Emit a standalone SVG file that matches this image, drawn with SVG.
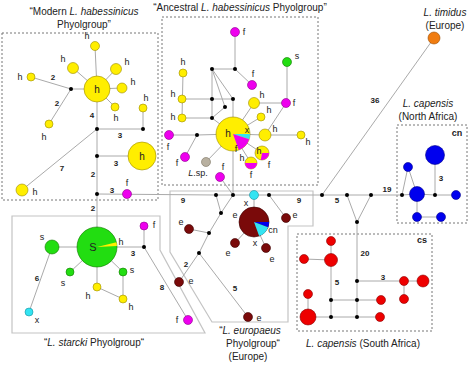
<svg xmlns="http://www.w3.org/2000/svg" width="474" height="370" viewBox="0 0 474 370">
<style>
.ln{stroke:#aaa;stroke-width:1;fill:none}
.bxd{fill:none;stroke:#777;stroke-width:1;stroke-dasharray:2,2}
.bxs{fill:none;stroke:#c4c4c4;stroke-width:1.2}
.d{fill:#000}
.y{fill:#ffee00;stroke:#9a8a00;stroke-width:.6}
.m{fill:#ee00ee;stroke:#8a008a;stroke-width:.6}
.g{fill:#22dd11;stroke:#117700;stroke-width:.6}
.c{fill:#33e4f2;stroke:#1890a0;stroke-width:.6}
.b{fill:#0000ee;stroke:#00008a;stroke-width:.6}
.r{fill:#ee0000;stroke:#8a0000;stroke-width:.6}
.e{fill:#7a0a0a;stroke:#3a0000;stroke-width:.6}
.o{fill:#f07c10;stroke:#9a4c00;stroke-width:.6}
.sp{fill:#b8b0a0;stroke:#7a7262;stroke-width:.6}
text{font-family:"Liberation Sans",Arial,sans-serif;font-size:9px;fill:#222;text-anchor:middle}
.n{font-weight:bold;font-size:8px}
.ti{font-size:10px}
.bg{font-size:10px}
</style>

<!-- boxes -->
<g id="boxes">
<rect class="bxd" x="2" y="33" width="156" height="167"/>
<rect class="bxd" x="162" y="17" width="156" height="168"/>
<rect class="bxd" x="397" y="125" width="70" height="98"/>
<rect class="bxd" x="297" y="234" width="135" height="97"/>
<polygon class="bxs" points="12,216 160,216 160,250 205,333 12,333"/>
<polygon class="bxs" points="170,191 313,191 313,226 288,226 288,322 212,322 170,252"/>
</g>

<g id="connectors">
<path class="ln" d="M97,89L95,46M97,89L73,68M97,89L116,69M97,89L122,88M97,89L115,107M97,89L71,89L31,77M71,89L49,124M97,89V247M97,129H143V108M97,129L22,190M97,156H142M97,194L216,195"/>
<path class="ln" d="M97,247H144V226M144,247L188,320M97,247H52L29,312M97,247L70,272M97,247L123,272V299M97,247V287L123,299"/>
<path class="ln" d="M235,32V69H212M235,69L252,85M287,62V103M183,73L182,118M182,99H233M182,118H212M212,69V118M212,69L233,99M212,69L225,107L212,118M233,99V134M212,118L233,134M254,103H286M233,134L254,103M233,134L261,117M233,134L265,135H301M286,103L265,135M233,134L262,153M233,134L251,163M169,135H197L233,134M197,135L185,157M233,134L206,162M233,134V195M220,177L233,195"/>
<path class="ln" d="M216,195H322M216,195L221,213L233,195M221,213L209,233L199,253L179,282M209,233L189,229M199,253L248,317M254,195V222M269,195L286,218M254,222L235,243M254,222L266,248"/>
<path class="ln" d="M322,195L434,38M322,195H402M347,195L357,222L371,195M357,222V317"/>
<path class="ln" d="M402,195L417,194L435,195H456M435,195V155M402,195L408,167L417,194M417,194V217H441"/>
<path class="ln" d="M357,281H423M404,281V299M331,300H381M308,317H380M331,241V317M304,259L331,260M308,294V317"/>
</g>

<g id="dots">
<circle class="d" cx="71" cy="89" r="2"/><circle class="d" cx="97" cy="129" r="2"/><circle class="d" cx="143" cy="129" r="2"/><circle class="d" cx="97" cy="156" r="2"/><circle class="d" cx="97" cy="194" r="2"/><circle class="d" cx="144" cy="247" r="2"/>
<circle class="d" cx="212" cy="69" r="2"/><circle class="d" cx="235" cy="69" r="2"/><circle class="d" cx="212" cy="99" r="2"/><circle class="d" cx="233" cy="99" r="2"/><circle class="d" cx="225" cy="107" r="2"/><circle class="d" cx="212" cy="118" r="2"/><circle class="d" cx="197" cy="135" r="2"/>
<circle class="d" cx="216" cy="195" r="2"/><circle class="d" cx="233" cy="195" r="2"/><circle class="d" cx="269" cy="195" r="2"/><circle class="d" cx="221" cy="213" r="2"/><circle class="d" cx="209" cy="233" r="2"/><circle class="d" cx="199" cy="253" r="2"/>
<circle class="d" cx="322" cy="195" r="2"/><circle class="d" cx="347" cy="195" r="2"/><circle class="d" cx="371" cy="195" r="2"/><circle class="d" cx="357" cy="222" r="2"/><circle class="d" cx="402" cy="195" r="2"/><circle class="d" cx="435" cy="195" r="2"/>
<circle class="d" cx="357" cy="281" r="2"/><circle class="d" cx="357" cy="300" r="2"/><circle class="d" cx="357" cy="317" r="2"/><circle class="d" cx="331" cy="300" r="2"/><circle class="d" cx="331" cy="317" r="2"/>
</g>

<!-- Modern group -->
<g id="mh-big"><circle class="y" cx="97" cy="89" r="13"/><text class="bg" x="97" y="93">h</text></g>
<g id="mh1"><circle class="y" cx="95" cy="46" r="4.5"/><text x="87" y="39">h</text></g>
<g id="mh2"><circle class="y" cx="73" cy="68" r="5.5"/><text x="63" y="62">h</text></g>
<g id="mh3"><circle class="y" cx="116" cy="69" r="5.5"/><text x="127" y="65">h</text></g>
<g id="mh4"><circle class="y" cx="122" cy="88" r="5"/><text x="133" y="85">h</text></g>
<g id="mh5"><circle class="y" cx="115" cy="107" r="4"/><text x="116" y="121">h</text></g>
<g id="mh6"><circle class="y" cx="143" cy="108" r="4"/><text x="146" y="101">h</text></g>
<g id="mh7"><circle class="y" cx="31" cy="77" r="4"/><text x="20" y="80">h</text></g>
<g id="mh8"><circle class="y" cx="49" cy="124" r="4"/><text x="44" y="140">h</text></g>
<g id="mh9"><circle class="y" cx="142" cy="156" r="14"/><text class="bg" x="142" y="160">h</text></g>
<g id="mh10"><circle class="y" cx="22" cy="190" r="6"/><text x="35" y="195">h</text></g>
<g id="mf1"><circle class="m" cx="127" cy="194" r="4.5"/><text x="127" y="186">f</text></g>

<!-- Starcki group -->
<g id="s-big"><circle class="g" cx="97" cy="247" r="20"/><path d="M97,247L116.41,242.16A20,20 0 0 1 116.97,245.95Z" fill="#ffee00"/><text x="93" y="251" style="font-size:11px">S</text><text x="121" y="245">h</text></g>
<g id="s1"><circle class="g" cx="52" cy="247" r="7"/><text x="42" y="240">s</text></g>
<g id="s2"><circle class="g" cx="70" cy="272" r="4"/><text x="63" y="286">s</text></g>
<g id="s3"><circle class="g" cx="123" cy="272" r="4"/><text x="132" y="273">s</text></g>
<g id="sh1"><circle class="y" cx="97" cy="287" r="4"/><text x="88" y="299">h</text></g>
<g id="sh2"><circle class="y" cx="123" cy="299" r="4"/><text x="131" y="310">h</text></g>
<g id="sx"><circle class="c" cx="29" cy="312" r="4"/><text x="37" y="323">x</text></g>
<g id="sf1"><circle class="m" cx="144" cy="226" r="4"/><text x="154" y="228">f</text></g>
<g id="sf2"><circle class="m" cx="188" cy="320" r="4.5"/><text x="177" y="323">f</text></g>

<!-- Ancestral group -->
<g id="a-big"><circle class="y" cx="233" cy="134" r="17"/><path d="M233,134L250,134A17,17 0 0 1 249.17,139.25Z" fill="#33e4f2"/><path d="M233,134L249.17,139.25A17,17 0 0 1 238.81,149.97Z" fill="#ee00ee"/><text class="bg" x="228" y="137">h</text><text x="247" y="133">x</text><text x="236" y="152">f</text></g>
<g id="af1"><circle class="m" cx="235" cy="32" r="4.5"/><text x="244" y="35">f</text></g>
<g id="af2"><circle class="m" cx="252" cy="85" r="4.5"/><text x="253" y="77">f</text></g>
<g id="as1"><circle class="g" cx="287" cy="62" r="4.5"/><text x="297" y="59">s</text></g>
<g id="af3"><circle class="m" cx="286" cy="103" r="4.5"/><text x="294" y="106">f</text></g>
<g id="ah1"><circle class="y" cx="183" cy="73" r="4"/><text x="183" y="65">h</text></g>
<g id="ah2"><circle class="y" cx="182" cy="99" r="4"/><text x="173" y="97">h</text></g>
<g id="ah3"><circle class="y" cx="182" cy="118" r="4"/><text x="173" y="120">h</text></g>
<g id="ah4"><circle class="y" cx="254" cy="103" r="5.5"/><text x="262" y="98">h</text></g>
<g id="ah5"><circle class="y" cx="261" cy="117" r="4"/><text x="269" y="113">h</text></g>
<g id="ah6"><circle class="y" cx="265" cy="135" r="6"/><text x="275" y="132">h</text></g>
<g id="ah7"><circle class="y" cx="301" cy="135" r="4"/><text x="308" y="145">h</text></g>
<g id="ahf1"><circle class="y" cx="262" cy="153" r="7"/><path d="M262,153L269,153A7,7 0 0 1 260.78,159.89Z" fill="#ee00ee"/><text x="259" y="154">h</text><text x="269" y="168">f</text></g>
<g id="ahf2"><circle class="y" cx="251" cy="163" r="6"/><path d="M257,163A6,6 0 0 1 245,163Z" fill="#ee00ee"/><text x="242" y="161">h</text><text x="251" y="178">f</text></g>
<g id="af4"><circle class="m" cx="169" cy="135" r="4.5"/><text x="168" y="150">f</text></g>
<g id="af5"><circle class="m" cx="185" cy="157" r="4.5"/><text x="177" y="166">f</text></g>
<g id="asp"><circle class="sp" cx="206" cy="162" r="4.5"/><text x="198" y="176"><tspan font-style="italic">L</tspan>.sp.</text></g>
<g id="af6"><circle class="m" cx="220" cy="177" r="4.5"/><text x="223" y="170">f</text></g>

<!-- Europaeus group -->
<g id="ex"><circle class="c" cx="254" cy="195" r="4.5"/><text x="246" y="206">x</text></g>
<g id="e-big"><circle class="e" cx="254" cy="222" r="15"/><path d="M254,222L269,222A15,15 0 0 1 268.10,227.13Z" fill="#0000ee"/><path d="M254,222L268.10,227.13A15,15 0 0 1 259.13,236.10Z" fill="#33e4f2"/><text x="235" y="218">e</text><text x="273" y="233">cn</text><text x="255" y="246">x</text></g>
<g id="e1"><circle class="e" cx="286" cy="218" r="4.5"/><text x="295" y="218">e</text></g>
<g id="e2"><circle class="e" cx="235" cy="243" r="4.5"/><text x="228" y="256">e</text></g>
<g id="e3"><circle class="e" cx="266" cy="248" r="4.5"/><text x="272" y="262">e</text></g>
<g id="e4"><circle class="e" cx="189" cy="229" r="4.5"/><text x="181" y="225">e</text></g>
<g id="e5"><circle class="e" cx="179" cy="282" r="4.5"/><text x="191" y="284">e</text></g>
<g id="e6"><circle class="e" cx="248" cy="317" r="4.5"/><text x="259" y="321">e</text></g>

<!-- timidus -->
<g id="timidus"><circle class="o" cx="434" cy="38" r="6"/></g>

<!-- cn group -->
<g id="cn1"><circle class="b" cx="417" cy="194" r="7.5"/></g>
<g id="cn2"><circle class="b" cx="456" cy="195" r="4.5"/></g>
<g id="cn3"><circle class="b" cx="435" cy="155" r="9.5"/></g>
<g id="cn4"><circle class="b" cx="408" cy="167" r="4.5"/></g>
<g id="cn5"><circle class="b" cx="417" cy="217" r="4.5"/></g>
<g id="cn6"><circle class="b" cx="441" cy="217" r="4.5"/></g>

<!-- cs group -->
<g id="cs1"><circle class="r" cx="404" cy="281" r="4.5"/></g>
<g id="cs2"><circle class="r" cx="423" cy="281" r="6"/></g>
<g id="cs3"><circle class="r" cx="404" cy="299" r="4.5"/></g>
<g id="cs4"><circle class="r" cx="381" cy="300" r="4.5"/></g>
<g id="cs5"><circle class="r" cx="380" cy="317" r="4.5"/></g>
<g id="cs6"><circle class="r" cx="308" cy="317" r="8"/></g>
<g id="cs7"><circle class="r" cx="308" cy="294" r="4.5"/></g>
<g id="cs8"><circle class="r" cx="331" cy="260" r="6.5"/></g>
<g id="cs9"><circle class="r" cx="331" cy="241" r="4.5"/></g>
<g id="cs10"><circle class="r" cx="304" cy="259" r="4.5"/></g>

<!-- edge numbers -->
<g id="numbers">
<text class="n" x="53" y="80">2</text><text class="n" x="57" y="106">2</text><text class="n" x="92" y="118">4</text><text class="n" x="120" y="138">3</text><text class="n" x="116" y="166">3</text><text class="n" x="62" y="171">7</text><text class="n" x="93" y="177">2</text><text class="n" x="112" y="193">3</text><text class="n" x="93" y="211">2</text>
<text class="n" x="133" y="256">3</text><text class="n" x="37" y="281">6</text><text class="n" x="162" y="290">8</text>
<text class="n" x="183" y="203">9</text><text class="n" x="299" y="203">9</text><text class="n" x="186" y="267">2</text><text class="n" x="235" y="291">5</text>
<text class="n" x="337" y="203">5</text><text class="n" x="387" y="192">19</text><text class="n" x="375" y="103">36</text><text class="n" x="441" y="181">3</text>
<text class="n" x="365" y="256">20</text><text class="n" x="383" y="280">3</text><text class="n" x="337" y="285">5</text>
<text class="n" x="457" y="136" style="font-size:9px">cn</text><text class="n" x="422" y="243" style="font-size:9px">cs</text>
</g>

<!-- titles -->
<g id="titles">
<text class="ti" x="84" y="15">“Modern <tspan font-style="italic">L. habessinicus</tspan></text>
<text class="ti" x="84" y="28">Phyolgroup”</text>
<text class="ti" x="240" y="11">“Ancestral <tspan font-style="italic">L. habessinicus</tspan> Phyolgroup”</text>
<text class="ti" x="445" y="16"><tspan font-style="italic">L. timidus</tspan></text>
<text class="ti" x="445" y="29">(Europe)</text>
<text class="ti" x="428" y="107"><tspan font-style="italic">L. capensis</tspan></text>
<text class="ti" x="428" y="120">(North Africa)</text>
<text class="ti" x="94" y="346">“<tspan font-style="italic">L. starcki</tspan> Phyolgroup“</text>
<text class="ti" x="250" y="334">“<tspan font-style="italic">L. europaeus</tspan></text>
<text class="ti" x="253" y="347">Phyolgroup“</text>
<text class="ti" x="248" y="360">(Europe)</text>
<text class="ti" x="363" y="347"><tspan font-style="italic">L. capensis</tspan> (South Africa)</text>
</g>
</svg>
